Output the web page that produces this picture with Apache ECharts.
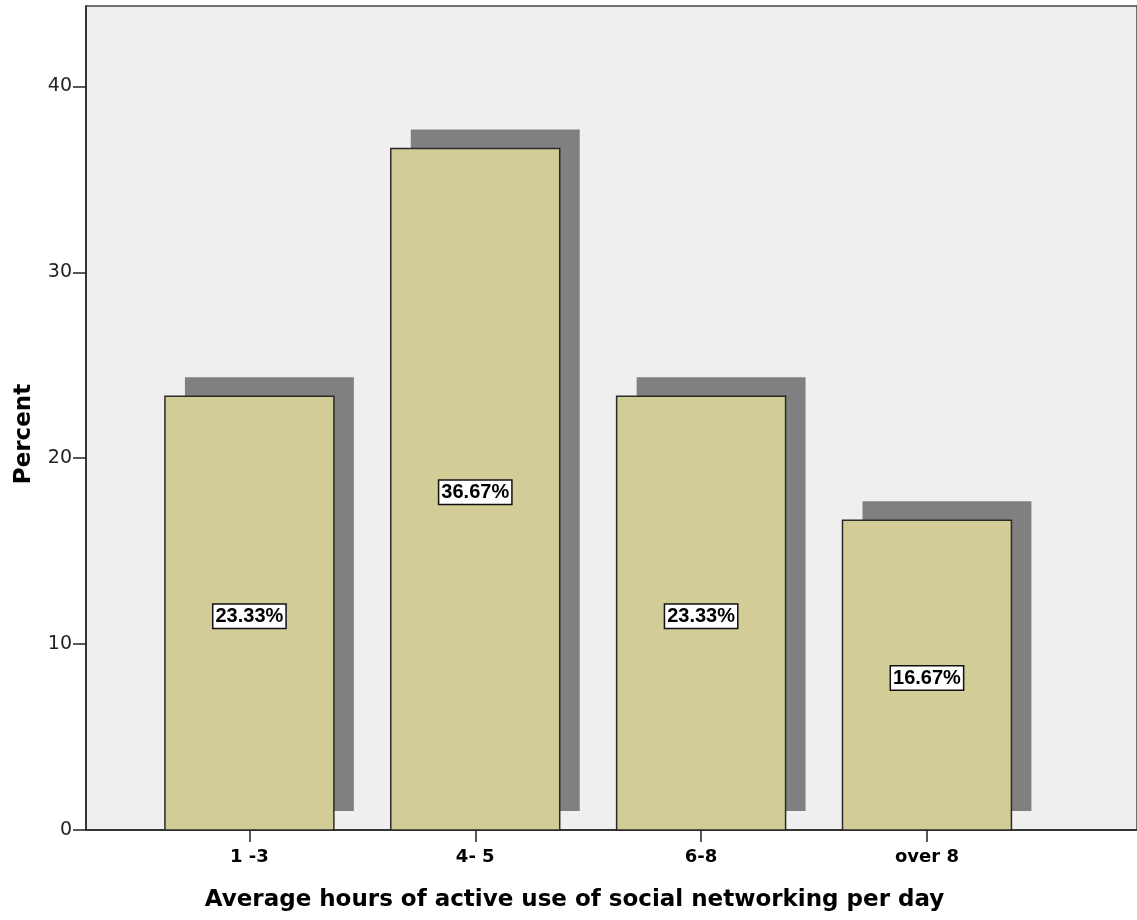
<!DOCTYPE html>
<html>
<head>
<meta charset="utf-8">
<script src="https://cdn.jsdelivr.net/npm/echarts@6/dist/echarts.min.js"></script>
<style>
  html, body { margin: 0; padding: 0; background: #fff; }
  #chart { width: 1137px; height: 920px; }
</style>
</head>
<body>
<div id="chart"></div>
<script>
// 数据
const categories = ['1 -3', '4- 5', '6-8', 'over 8'];
const percents = [23.33, 36.67, 23.33, 16.67];
const percentLabels = ['23.33%', '36.67%', '23.33%', '16.67%'];
const yTicks = [0, 10, 20, 30, 40];

const font = '"DejaVu Sans", "Liberation Sans", Arial, sans-serif';
const narrow = '"Liberation Sans Narrow", "Liberation Sans", Arial, sans-serif';
const chart = echarts.init(document.getElementById('chart'));

// 柱子 + 阴影 + 标签
const renderBar = (params, api) => {
  const x = api.value(0);
  const v = api.value(1);
  const half = 0.374;
  const tl = api.coord([x - half, v]);
  const br = api.coord([x + half, 0]);
  const w = br[0] - tl[0];
  const h = br[1] - tl[1];
  const dx = 20, dy = -19;
  return {
    type: 'group',
    children: [
      {
        type: 'rect',
        shape: { x: tl[0] + dx, y: tl[1] + dy, width: w, height: h },
        style: { fill: '#808080' }
      },
      {
        type: 'rect',
        shape: { x: tl[0], y: tl[1], width: w, height: h },
        style: { fill: '#d2cd97', stroke: '#2a2a2a', lineWidth: 1.5 }
      },
      {
        type: 'text',
        x: (tl[0] + br[0]) / 2,
        y: (tl[1] + br[1]) / 2 + 3,
        style: {
          text: percentLabels[params.dataIndex],
          align: 'center',
          verticalAlign: 'middle',
          font: 'bold 20px ' + narrow,
          fill: '#000',
          backgroundColor: '#fff',
          borderColor: '#111',
          borderWidth: 1.5,
          padding: [2, 2, 1, 2]
        }
      }
    ]
  };
};

const option = {
  animation: false,
  backgroundColor: '#fff',
  grid: {
    left: 86,
    top: 6,
    width: 1052,
    bottom: 90,
    show: true,
    backgroundColor: '#efefef',
    borderColor: '#444',
    borderWidth: 1.5
  },
  xAxis: {
    type: 'value',
    min: 0.2765,
    max: 4.93,
    name: 'Average hours of active use of social networking per day',
    nameLocation: 'middle',
    nameGap: 59,
    nameTextStyle: { fontFamily: font, fontSize: 23, fontWeight: 'bold', color: '#000', padding: [0, 0, 0, -74] },
    axisLine: { lineStyle: { color: '#222', width: 1.5 } },
    axisTick: { customValues: [1, 2, 3, 4], length: 12, lineStyle: { color: '#222', width: 1.5 } },
    axisLabel: {
      customValues: [1, 2, 3, 4],
      formatter: (v) => categories[Math.round(v) - 1] || '',
      fontFamily: font,
      fontSize: 18,
      fontWeight: 'bold',
      color: '#000',
      margin: 18
    },
    splitLine: { show: false }
  },
  yAxis: {
    type: 'value',
    min: 0,
    max: 44.33,
    name: 'Percent',
    nameLocation: 'middle',
    nameGap: 50,
    nameTextStyle: { fontFamily: font, fontSize: 23, fontWeight: 'bold', color: '#000', padding: [0, 0, 0, -32] },
    axisLine: { show: true, lineStyle: { color: '#222', width: 1.5 } },
    axisTick: { show: true, customValues: yTicks, length: 13, lineStyle: { color: '#222', width: 1.5 } },
    axisLabel: {
      customValues: yTicks,
      fontFamily: font,
      fontSize: 19,
      color: '#222',
      margin: 14,
      padding: [4, 0, 0, 0]
    },
    splitLine: { show: false }
  },
  series: [
    {
      type: 'custom',
      renderItem: renderBar,
      encode: { x: 0, y: 1 },
      data: percents.map((v, i) => [i + 1, v])
    }
  ]
};

chart.setOption(option);
</script>
</body>
</html>
